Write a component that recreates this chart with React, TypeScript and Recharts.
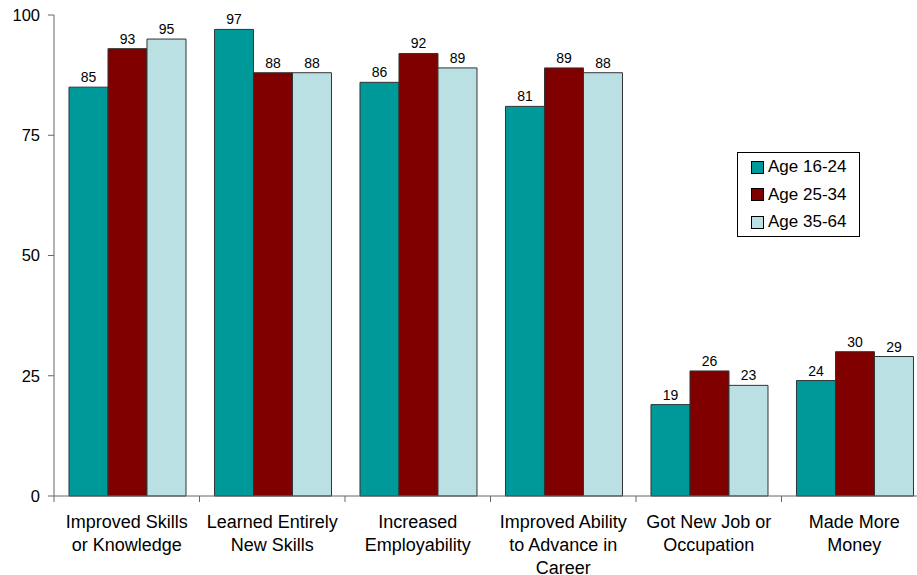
import { BarChart, Bar, XAxis, YAxis, LabelList } from 'recharts'

const categories = [
  'Improved Skills\nor Knowledge',
  'Learned Entirely\nNew Skills',
  'Increased\nEmployability',
  'Improved Ability\nto Advance in\nCareer',
  'Got New Job or\nOccupation',
  'Made More\nMoney',
]
const age1624 = [85, 97, 86, 81, 19, 24]
const age2534 = [93, 88, 92, 89, 26, 30]
const age3564 = [95, 88, 89, 88, 23, 29]
const yTicks = [0, 25, 50, 75, 100]

const seriesInfo = [
  { key: 'a', name: 'Age 16-24', color: '#009999' },
  { key: 'b', name: 'Age 25-34', color: '#800000' },
  { key: 'c', name: 'Age 35-64', color: '#bbe0e3' },
]

const data = categories.map((c, i) => ({ cat: c, a: age1624[i], b: age2534[i], c: age3564[i] }))

const W = 930
const M = { top: 15, right: 3, left: 0, bottom: 0 }
const Y_W = 54
const band = (W - M.left - M.right - Y_W) / categories.length
const FONT = 'Liberation Sans, Arial, sans-serif'

function CatTick(props: any) {
  const { x, y, payload } = props
  const lines = String(payload.value).split('\n')
  const left = x - band / 2
  return (
    <g>
      <line x1={left} y1={y - 8} x2={left} y2={y - 2} stroke="#666" />
      <text x={x} y={y + 24} textAnchor="middle" fontSize={18} fill="#000" fontFamily={FONT}>
        {lines.map((l, i) => (
          <tspan key={i} x={x} dy={i === 0 ? 0 : 23}>{l}</tspan>
        ))}
      </text>
    </g>
  )
}

function LegendBox() {
  return (
    <div style={{ position: 'absolute', left: 737, top: 152, width: 123, height: 85, border: '1px solid #000', background: '#fff', boxSizing: 'border-box', fontFamily: FONT }}>
      {seriesInfo.map((s, i) => (
        <div key={s.key} style={{ position: 'absolute', left: 13, top: 4 + i * 27.5, height: 20, display: 'flex', alignItems: 'center', whiteSpace: 'nowrap' }}>
          <div style={{ width: 11, height: 11, background: s.color, border: '1px solid #000', marginRight: 4 }} />
          <span style={{ fontSize: 17, color: '#000', lineHeight: '20px' }}>{s.name}</span>
        </div>
      ))}
    </div>
  )
}

export default function App() {
  return (
    <div style={{ position: 'absolute', left: 0, top: 0, width: 917, height: 575, overflow: 'hidden', background: '#fff' }}>
      <BarChart width={W} height={575} data={data} margin={M} barCategoryGap="10.3%" barGap={0}>
        <XAxis
          dataKey="cat"
          interval={0}
          height={79}
          tickLine={false}
          axisLine={{ stroke: '#666' }}
          tick={<CatTick />}
        />
        <YAxis
          width={Y_W}
          domain={[0, 100]}
          ticks={yTicks}
          tick={{ fontSize: 16.5, fill: '#000', fontFamily: FONT }}
          axisLine={{ stroke: '#666' }}
          tickLine={{ stroke: '#666' }}
          tickSize={6}
          tickMargin={8}
        />
        {seriesInfo.map(s => (
          <Bar key={s.key} dataKey={s.key} name={s.name} fill={s.color} stroke="#333" strokeWidth={1} isAnimationActive={false}>
            <LabelList dataKey={s.key} position="top" offset={5} fontSize={14} fill="#000" fontFamily={FONT} />
          </Bar>
        ))}
      </BarChart>
      <LegendBox />
    </div>
  )
}
